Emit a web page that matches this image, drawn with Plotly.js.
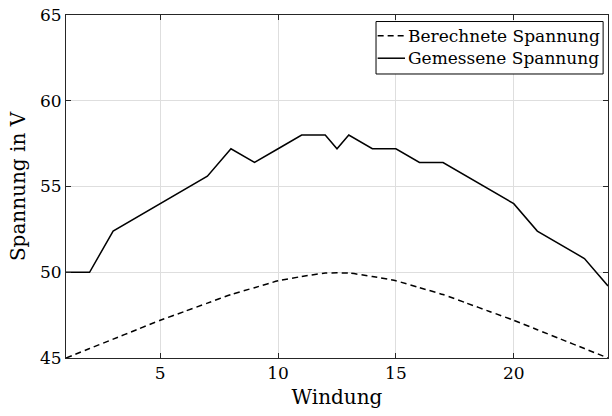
<!DOCTYPE html>
<html>
<head>
<meta charset="utf-8">
<script src="https://cdn.plot.ly/plotly-3.0.1.min.js"></script>
<style>
  html, body { margin: 0; padding: 0; background: #fff; }
  #chart { width: 612px; height: 416px; }
</style>
</head>
<body>
<div id="chart"></div>
<script>
// Windungsnummern der berechneten Kurve
const windungBerechnet = [1, 2, 3, 4, 5, 6, 7, 8, 9, 10, 11, 12,
                          13, 14, 15, 16, 17, 18, 19, 20, 21, 22, 23, 24];
// Berechnete Spannung je Windung (V)
const spannungBerechnet = [45.0, 45.55, 46.1, 46.65, 47.2, 47.7, 48.2, 48.7, 49.1, 49.5, 49.75, 49.95,
                           49.95, 49.75, 49.5, 49.1, 48.7, 48.2, 47.7, 47.2, 46.65, 46.1, 45.55, 45.0];

// Windungsnummern der Messung
const windungGemessen = [1, 2, 3, 4, 5, 6, 7, 8, 9, 10, 11, 12, 12.5,
                         13, 14, 15, 16, 17, 18, 19, 20, 21, 22, 23, 24];
// Gemessene Spannung je Windung (V)
const spannungGemessen = [50.0, 50.0, 52.4, 53.2, 54.0, 54.8, 55.6, 57.2, 56.4, 57.2, 58.0, 58.0, 57.2,
                          58.0, 57.2, 57.2, 56.4, 56.4, 55.6, 54.8, 54.0, 52.4, 51.6, 50.8, 49.2];

const xTicks = [5, 10, 15, 20];
const yTicks = [45, 50, 55, 60, 65];

const serif = 'DejaVu Serif';
const dashBerechnet = '6px,4px';

const traces = [
  {
    x: windungBerechnet,
    y: spannungBerechnet,
    mode: 'lines',
    name: 'Berechnete Spannung',
    line: { color: '#000', width: 1.5, dash: dashBerechnet, shape: 'spline', smoothing: 0.6 }
  },
  {
    x: windungGemessen,
    y: spannungGemessen,
    mode: 'lines',
    name: 'Gemessene Spannung',
    line: { color: '#000', width: 1.5 }
  }
];

// Kompakte Legende oben rechts (Rahmen, Linienmuster, Beschriftung)
const legendBox = { x0: 0.572, x1: 0.991, y0: 0.828, y1: 0.981 };
const legendRows = [0.9395, 0.874];
const sampleX = [0.575, 0.6255];
const legendShapes = [
  { type: 'rect', xref: 'paper', yref: 'paper',
    x0: legendBox.x0, x1: legendBox.x1, y0: legendBox.y0, y1: legendBox.y1,
    fillcolor: '#fff', line: { color: '#000', width: 1 }, layer: 'above' }
];
const legendAnnotations = [];
traces.forEach((t, i) => {
  legendShapes.push({
    type: 'line', xref: 'paper', yref: 'paper',
    x0: sampleX[0], x1: sampleX[1], y0: legendRows[i], y1: legendRows[i],
    line: { color: '#000', width: 1.5, dash: t.line.dash || 'solid' }, layer: 'above'
  });
  legendAnnotations.push({
    xref: 'paper', yref: 'paper', x: sampleX[1] + 0.001, y: legendRows[i],
    xanchor: 'left', yanchor: 'middle', showarrow: false,
    text: t.name, font: { family: serif, size: 17, color: '#000' }
  });
});

const axisCommon = {
  showline: true,
  linecolor: '#262626',
  linewidth: 1,
  mirror: 'ticks',
  ticks: 'inside',
  ticklen: 5,
  tickwidth: 1,
  tickcolor: '#262626',
  showgrid: true,
  gridcolor: '#dedede',
  gridwidth: 1,
  zeroline: false,
  tickfont: { family: serif, size: 17, color: '#000' }
};

const layout = {
  width: 612,
  height: 416,
  margin: { l: 66, r: 4, t: 15, b: 58 },
  paper_bgcolor: '#fff',
  plot_bgcolor: '#fff',
  font: { family: serif, color: '#000' },
  showlegend: false,
  shapes: legendShapes,
  annotations: legendAnnotations,
  xaxis: Object.assign({}, axisCommon, {
    range: [1, 24],
    tickvals: xTicks,
    ticktext: xTicks.map(String),
    title: { text: 'Windung', font: { family: serif, size: 20, color: '#000' }, standoff: 7 }
  }),
  yaxis: Object.assign({}, axisCommon, {
    range: [45, 65],
    tickvals: yTicks,
    ticktext: yTicks.map(String),
    title: { text: 'Spannung in V', font: { family: serif, size: 20, color: '#000' }, standoff: 8 }
  })
};

Plotly.newPlot('chart', traces, layout, { staticPlot: true, displayModeBar: false });
</script>
</body>
</html>
